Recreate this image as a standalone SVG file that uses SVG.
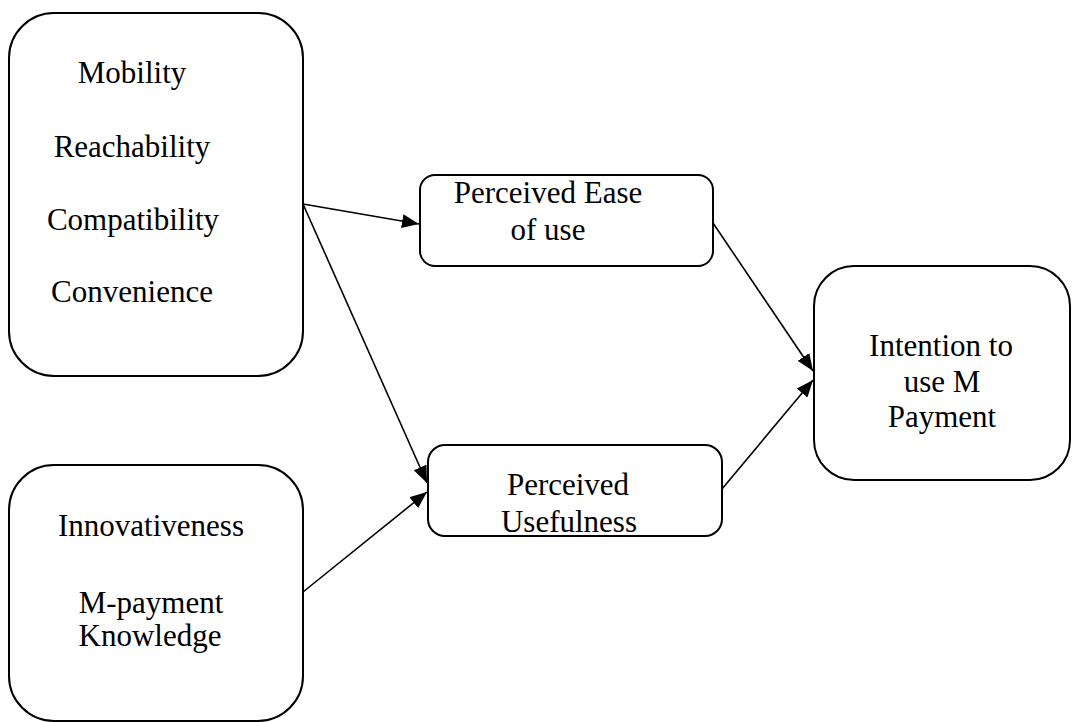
<svg xmlns="http://www.w3.org/2000/svg" width="1072" height="722" viewBox="0 0 1072 722">
  <style>
    .box { fill: #ffffff; stroke: #000000; stroke-width: 2; }
    .lbl { font-size: 31px; fill: #000000; text-anchor: middle; }
    .conn { stroke: #000000; stroke-width: 1.6; fill: none; marker-end: url(#arrow); }
  </style>
  <defs>
    <marker id="arrow" markerUnits="userSpaceOnUse" markerWidth="18" markerHeight="14" refX="17" refY="7" orient="auto">
      <path d="M0,0 L17,7 L0,14 z" fill="#000000"/>
    </marker>
  </defs>
  <rect width="1072" height="722" fill="#ffffff"/>

  <g font-family="'Liberation Serif', 'DejaVu Serif', serif">
  <g id="factors-top">
    <rect class="box" x="9" y="13" width="294" height="363" rx="45" ry="45"/>
    <text class="lbl" x="132" y="83">Mobility</text>
    <text class="lbl" x="132" y="157">Reachability</text>
    <text class="lbl" x="133" y="230">Compatibility</text>
    <text class="lbl" x="132" y="302">Convenience</text>
  </g>

  <g id="factors-bottom">
    <rect class="box" x="9" y="465" width="294" height="256" rx="45" ry="45"/>
    <text class="lbl" x="151" y="536">Innovativeness</text>
    <text class="lbl" x="151" y="613">M-payment</text>
    <text class="lbl" x="150" y="646">Knowledge</text>
  </g>

  <g id="ease">
    <rect class="box" x="420" y="175" width="293" height="91" rx="15" ry="15"/>
    <text class="lbl" x="548" y="203">Perceived Ease</text>
    <text class="lbl" x="548" y="240">of use</text>
  </g>

  <g id="usefulness">
    <rect class="box" x="428" y="445" width="294" height="91" rx="17" ry="17"/>
    <text class="lbl" x="568" y="495">Perceived</text>
    <text class="lbl" x="569" y="532">Usefulness</text>
  </g>

  <g id="intention">
    <rect class="box" x="814" y="266" width="256" height="214" rx="40" ry="40"/>
    <text class="lbl" x="941" y="356">Intention to</text>
    <text class="lbl" x="942" y="392">use M</text>
    <text class="lbl" x="942" y="427">Payment</text>
  </g>
  </g>

  <g id="connectors">
    <line class="conn" x1="303" y1="204" x2="419" y2="224"/>
    <line class="conn" x1="303" y1="204" x2="427" y2="483"/>
    <line class="conn" x1="303" y1="592" x2="427" y2="492"/>
    <line class="conn" x1="713" y1="223" x2="813" y2="371"/>
    <line class="conn" x1="722" y1="489" x2="813" y2="380"/>
  </g>
</svg>
